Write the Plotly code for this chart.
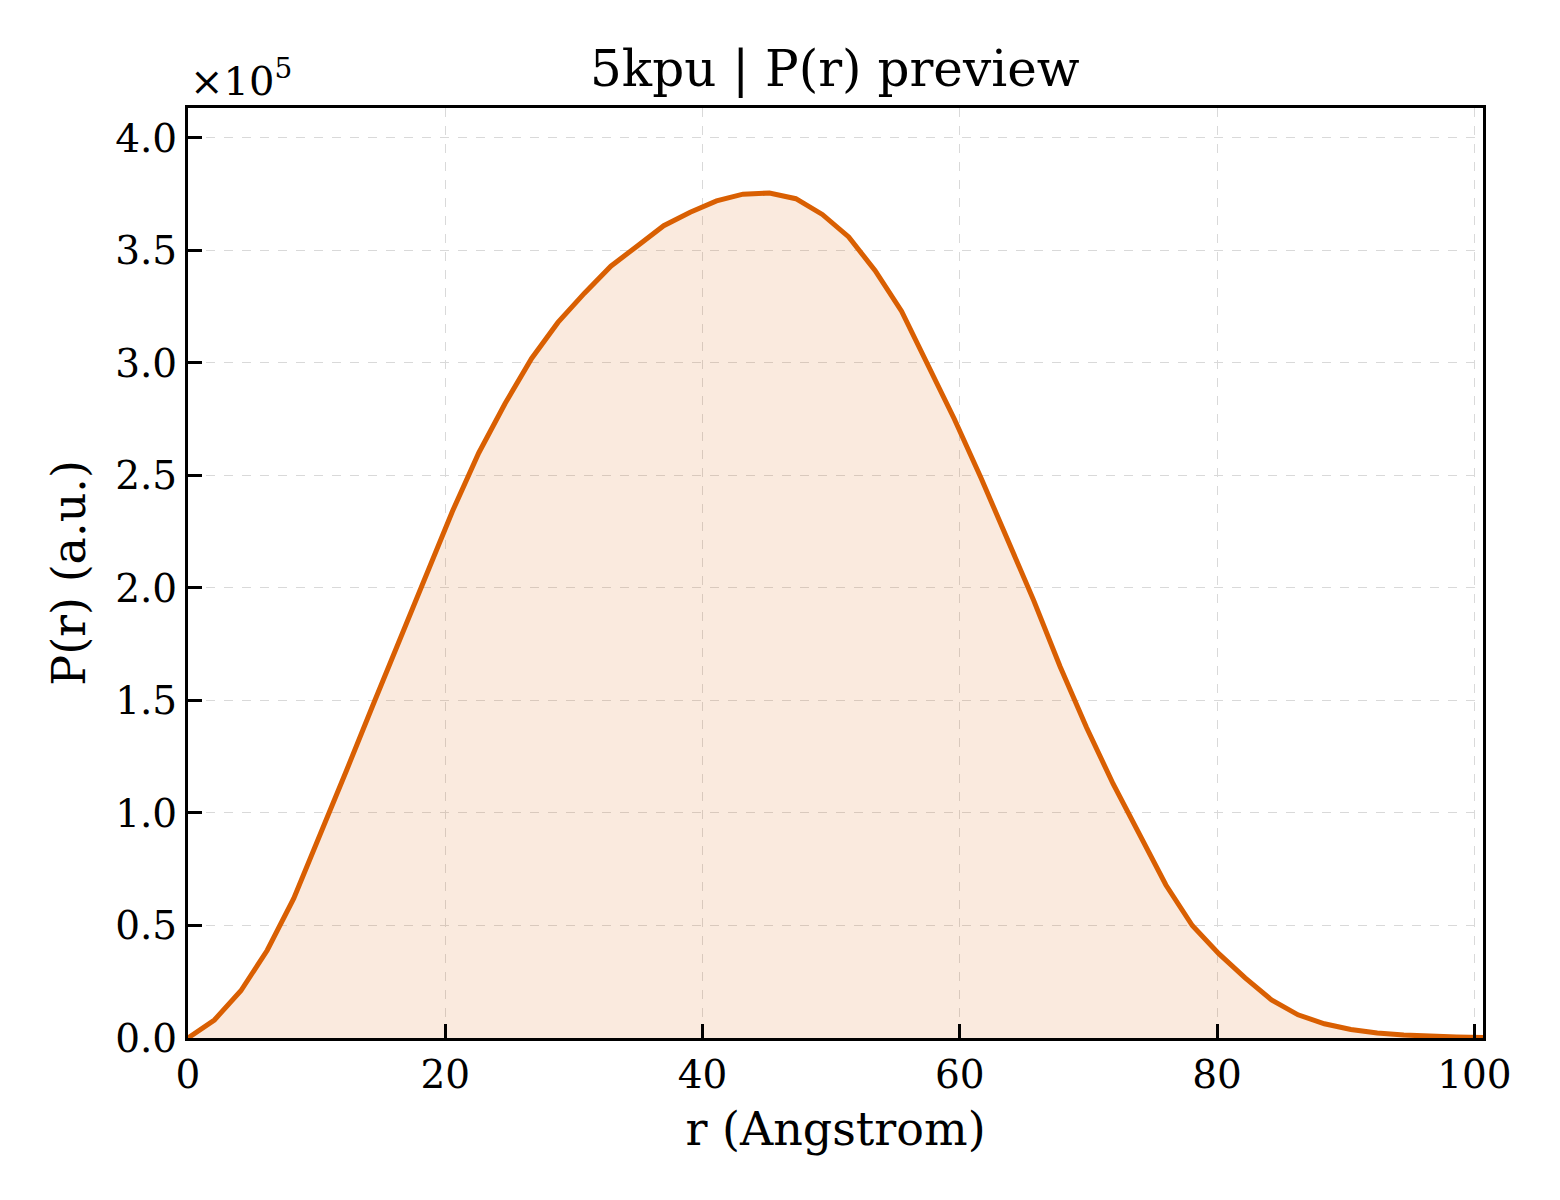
import plotly.graph_objects as go

r_angstrom = [0.00, 2.05, 4.11, 6.16, 8.22, 10.27, 12.33, 14.38, 16.44, 18.49,
              20.55, 22.60, 24.65, 26.71, 28.76, 30.82, 32.87, 34.93, 36.98, 39.04,
              41.09, 43.14, 45.20, 47.25, 49.31, 51.36, 53.42, 55.47, 57.53, 59.58,
              61.64, 63.69, 65.74, 67.80, 69.85, 71.91, 73.96, 76.02, 78.07, 80.13,
              82.18, 84.23, 86.29, 88.34, 90.40, 92.45, 94.51, 96.56, 98.62, 100.67]
p_r = [0, 8000, 21000, 39000, 62000, 90000, 119000, 148000, 177000, 206000,
       234000, 260000, 282000, 302000, 318000, 331000, 343000, 352000, 361000, 367000,
       372000, 375000, 375500, 373000, 366000, 356000, 341000, 323000, 299000, 275000,
       249000, 222000, 194500, 165000, 138000, 113000, 90000, 68000, 50000, 37500,
       26700, 16900, 10300, 6300, 3800, 2200, 1300, 700, 400, 200]

y_tickvals = [0, 50000, 100000, 150000, 200000, 250000, 300000, 350000, 400000]
y_ticktext = ["0.0", "0.5", "1.0", "1.5", "2.0", "2.5", "3.0", "3.5", "4.0"]
x_tickvals = [0, 20, 40, 60, 80, 100]

font_fam = "DejaVu Serif"
line_col = "#D95F02"

fig = go.Figure()
fig.add_trace(go.Scatter(x=r_angstrom, y=p_r, mode="lines", fill="tozeroy",
                         fillcolor="rgba(217,95,2,0.13)",
                         line=dict(color=line_col, width=5), showlegend=False))

axis_common = dict(showline=True, linecolor="black", linewidth=3, mirror=True,
                   ticks="inside", ticklen=14, tickwidth=2.5, tickcolor="black",
                   showgrid=True, gridcolor="#d9d9d9", gridwidth=1.3, griddash="dash",
                   zeroline=False, tickfont=dict(family=font_fam, size=39, color="black"))

fig.update_xaxes(range=[0, 100.67], tickvals=x_tickvals,
                 title=dict(text="r (Angstrom)", font=dict(family=font_fam, size=46, color="black"),
                            standoff=18),
                 **axis_common)
fig.update_yaxes(range=[0, 413300], tickvals=y_tickvals, ticktext=y_ticktext,
                 title=dict(text="P(r) (a.u.)", font=dict(family=font_fam, size=46, color="black"),
                            standoff=16),
                 **axis_common)

fig.add_annotation(text="×10<sup>5</sup>", xref="paper", yref="paper", x=0, y=1.0,
                   xanchor="left", yanchor="bottom", yshift=2, showarrow=False,
                   font=dict(family=font_fam, size=40, color="black"))

fig.update_layout(
    width=1560, height=1200,
    margin=dict(l=180, r=85, t=100, b=170),
    paper_bgcolor="white", plot_bgcolor="white",
    title=dict(text="5kpu | P(r) preview", x=0.530, xanchor="center", y=0.935, yanchor="bottom",
               font=dict(family=font_fam, size=50, color="black")),
)

fig.write_html("out.html")
